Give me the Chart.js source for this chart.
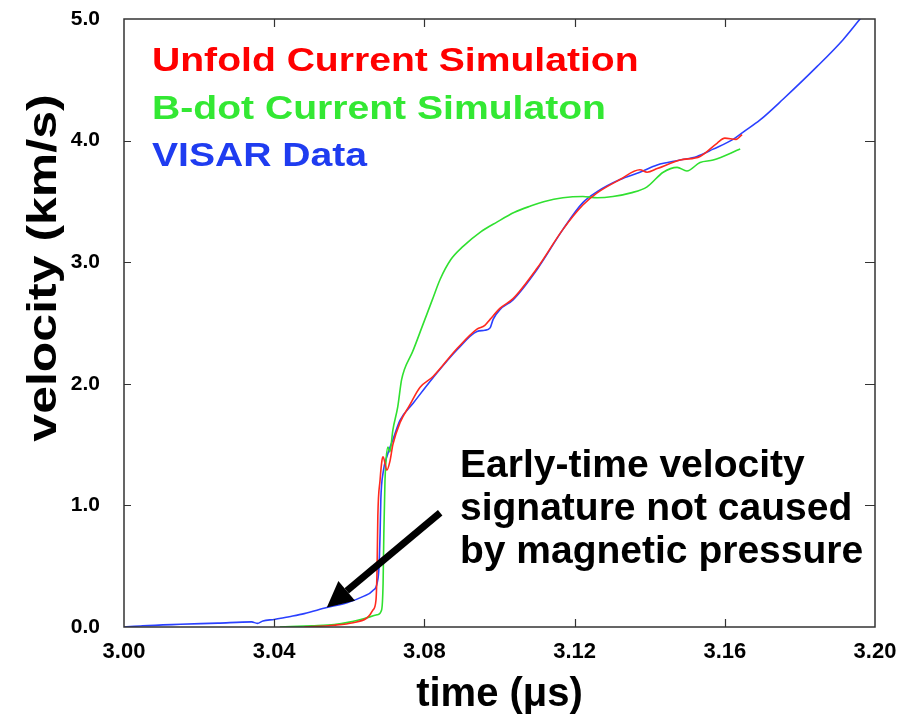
<!DOCTYPE html>
<html>
<head>
<meta charset="utf-8">
<title>velocity vs time</title>
<script src="https://cdn.jsdelivr.net/npm/chart.js@4.4.1/dist/chart.umd.min.js"></script>
<style>
    html, body { margin: 0; padding: 0; background: #fff; }
</style>
</head>
<body>
<canvas id="velocityChart" width="913" height="721"></canvas>
<script>
// VISAR measurement (time in µs, velocity in km/s)
const visarTime = [3.000, 3.005, 3.015, 3.025, 3.034, 3.0355, 3.037, 3.040, 3.044, 3.048, 3.054, 3.0594, 3.0636, 3.0663, 3.0674, 3.0679, 3.0682, 3.0684, 3.0690, 3.0700, 3.0716, 3.0735, 3.0770, 3.0823, 3.0887, 3.0940, 3.0961, 3.0975, 3.0983, 3.1001, 3.1036, 3.1100, 3.1169, 3.1222, 3.1260, 3.1321, 3.1374, 3.1420, 3.1481, 3.1526, 3.1569, 3.1622, 3.1649, 3.1694, 3.1755, 3.1846, 3.1915, 3.1960, 3.1975];
const visarVel = [0.000, 0.010, 0.022, 0.032, 0.042, 0.030, 0.050, 0.062, 0.085, 0.11, 0.16, 0.20, 0.25, 0.30, 0.36, 0.49, 0.77, 1.05, 1.27, 1.40, 1.54, 1.70, 1.84, 2.05, 2.28, 2.43, 2.44, 2.46, 2.53, 2.61, 2.69, 2.94, 3.27, 3.49, 3.58, 3.68, 3.74, 3.80, 3.84, 3.87, 3.93, 4.01, 4.07, 4.17, 4.34, 4.61, 4.83, 5.00, 5.06];

// simulation driven by unfolded current
const unfoldTime = [3.048, 3.056, 3.061, 3.0645, 3.0655, 3.0663, 3.0671, 3.0674, 3.0676, 3.0682, 3.0687, 3.0690, 3.0700, 3.0708, 3.0716, 3.0735, 3.0760, 3.0788, 3.0823, 3.0887, 3.0940, 3.0961, 3.0975, 3.1001, 3.1036, 3.1100, 3.1169, 3.1222, 3.1260, 3.1321, 3.1374, 3.1393, 3.1420, 3.1481, 3.1534, 3.1580, 3.1600, 3.1630, 3.1646];
const unfoldVel = [0.000, 0.015, 0.035, 0.07, 0.10, 0.14, 0.22, 0.49, 0.91, 1.21, 1.37, 1.40, 1.29, 1.36, 1.50, 1.68, 1.82, 1.97, 2.06, 2.29, 2.45, 2.48, 2.53, 2.62, 2.70, 2.95, 3.27, 3.47, 3.57, 3.68, 3.76, 3.74, 3.77, 3.84, 3.87, 3.98, 4.02, 4.01, 4.05];

// simulation driven by B-dot current
const bdotTime = [3.0415, 3.050, 3.056, 3.060, 3.064, 3.0674, 3.0686, 3.0690, 3.0692, 3.0695, 3.0698, 3.0703, 3.0708, 3.0716, 3.0729, 3.0739, 3.0747, 3.0768, 3.0794, 3.0821, 3.0842, 3.0870, 3.0903, 3.0950, 3.0993, 3.1040, 3.1081, 3.1120, 3.1169, 3.1222, 3.1260, 3.1302, 3.1350, 3.1393, 3.1436, 3.1473, 3.1499, 3.1534, 3.1569, 3.1641];
const bdotVel = [0.000, 0.010, 0.020, 0.040, 0.070, 0.100, 0.14, 0.36, 0.77, 1.20, 1.38, 1.48, 1.44, 1.62, 1.81, 2.03, 2.12, 2.26, 2.47, 2.69, 2.86, 3.02, 3.13, 3.25, 3.33, 3.41, 3.46, 3.50, 3.53, 3.54, 3.53, 3.54, 3.57, 3.62, 3.74, 3.78, 3.75, 3.82, 3.84, 3.93];

const xTicks = [3.00, 3.04, 3.08, 3.12, 3.16, 3.20];
const yTicks = [0, 1, 2, 3, 4, 5];

const noteLines = ['Early-time velocity', 'signature not caused', 'by magnetic pressure'];
const arrowFrom = [3.0842, 0.94];
const arrowTo = [3.054, 0.16];

const FONT = '"Liberation Sans", Arial, sans-serif';

function toPoints(ts, vs) {
    return ts.map((t, i) => ({ x: t, y: vs[i] }));
}

// frame, inward ticks, legend, note, arrow and y title
const decorPlugin = {
    id: 'decor',
    afterDatasetsDraw(chart) {
        const { ctx, chartArea: a, scales: { x, y } } = chart;
        ctx.save();

        // box
        ctx.strokeStyle = '#333';
        ctx.lineWidth = 1.5;
        ctx.strokeRect(a.left, a.top, a.right - a.left, a.bottom - a.top);

        // inward ticks
        ctx.beginPath();
        xTicks.slice(1, -1).forEach(v => {
            const px = Math.round(x.getPixelForValue(v)) + 0.5;
            ctx.moveTo(px, a.bottom); ctx.lineTo(px, a.bottom - 8);
            ctx.moveTo(px, a.top); ctx.lineTo(px, a.top + 8);
        });
        yTicks.slice(1, -1).forEach(v => {
            const py = Math.round(y.getPixelForValue(v)) + 0.5;
            ctx.moveTo(a.left, py); ctx.lineTo(a.left + 7, py);
            ctx.moveTo(a.right, py); ctx.lineTo(a.right - 10, py);
        });
        ctx.lineWidth = 1.2;
        ctx.stroke();

        // legend as coloured text
        ctx.textBaseline = 'alphabetic';
        ctx.textAlign = 'left';
        ctx.font = 'bold 34px ' + FONT;
        chart.data.datasets.forEach((ds, i) => {
            ctx.save();
            ctx.translate(152, 71 + i * 47.5);
            ctx.scale(1.15, 1);
            ctx.fillStyle = ds.textColor;
            ctx.fillText(ds.label, 0, 0);
            ctx.restore();
        });

        // note text
        ctx.fillStyle = '#000';
        ctx.font = 'bold 39px ' + FONT;
        noteLines.forEach((line, i) => ctx.fillText(line, 460, 477 + i * 43));

        // arrow
        const x0 = x.getPixelForValue(arrowFrom[0]), y0 = y.getPixelForValue(arrowFrom[1]);
        const x1 = x.getPixelForValue(arrowTo[0]), y1 = y.getPixelForValue(arrowTo[1]);
        const ang = Math.atan2(y1 - y0, x1 - x0);
        const headLen = 26, headHalf = 13;
        const bx = x1 - headLen * Math.cos(ang), by = y1 - headLen * Math.sin(ang);
        ctx.strokeStyle = '#000';
        ctx.lineWidth = 7;
        ctx.beginPath();
        ctx.moveTo(x0, y0);
        ctx.lineTo(bx, by);
        ctx.stroke();
        ctx.beginPath();
        ctx.moveTo(x1, y1);
        ctx.lineTo(bx + headHalf * Math.sin(ang), by - headHalf * Math.cos(ang));
        ctx.lineTo(bx - headHalf * Math.sin(ang), by + headHalf * Math.cos(ang));
        ctx.closePath();
        ctx.fill();

        // y axis title, stretched along its length like the original
        ctx.translate(45, 268);
        ctx.rotate(-Math.PI / 2);
        ctx.scale(1.25, 1);
        ctx.textAlign = 'center';
        ctx.textBaseline = 'middle';
        ctx.font = 'bold 40px ' + FONT;
        ctx.fillText('velocity (km/s)', 0, 0);

        ctx.restore();
    }
};

const ctx = document.getElementById('velocityChart').getContext('2d');
const velocityChart = new Chart(ctx, {
    type: 'line',
    data: {
        datasets: [{
            label: 'Unfold Current Simulation',
            data: toPoints(unfoldTime, unfoldVel),
            borderColor: '#ff2a1e',
            textColor: '#ff0000',
            borderWidth: 1.6,
            pointRadius: 0,
            cubicInterpolationMode: 'monotone'
        }, {
            label: 'B-dot Current Simulaton',
            data: toPoints(bdotTime, bdotVel),
            borderColor: '#30e030',
            textColor: '#33e833',
            borderWidth: 1.6,
            pointRadius: 0,
            cubicInterpolationMode: 'monotone'
        }, {
            label: 'VISAR Data',
            data: toPoints(visarTime, visarVel),
            borderColor: '#2a40ff',
            textColor: '#1f3cf0',
            borderWidth: 1.6,
            pointRadius: 0,
            cubicInterpolationMode: 'monotone'
        }]
    },
    options: {
        responsive: false,
        animation: false,
        devicePixelRatio: 1,
        layout: { padding: { top: 19, right: 38, left: 0, bottom: 0 } },
        plugins: {
            legend: { display: false },
            tooltip: { enabled: false }
        },
        scales: {
            x: {
                type: 'linear',
                min: 3.0,
                max: 3.2,
                afterBuildTicks: scale => { scale.ticks = xTicks.map(v => ({ value: v })); },
                afterFit: scale => { scale.height = 94; },
                grid: { display: false, drawTicks: false },
                border: { display: false },
                ticks: {
                    autoSkip: false,
                    maxRotation: 0,
                    padding: 12,
                    color: '#000',
                    font: { family: FONT, size: 22, weight: 'bold' },
                    callback: v => Number(v).toFixed(2)
                },
                title: {
                    display: true,
                    text: 'time (μs)',
                    color: '#000',
                    font: { family: FONT, size: 40, weight: 'bold' },
                    padding: { top: 0, bottom: 2 }
                }
            },
            y: {
                min: 0,
                max: 5,
                afterBuildTicks: scale => { scale.ticks = yTicks.map(v => ({ value: v })); },
                afterFit: scale => { scale.width = 124; },
                // invisible tick marks keep the labels clear of the frame
                grid: { display: true, drawOnChartArea: false, drawTicks: true, tickLength: 19, tickColor: 'rgba(0,0,0,0)' },
                border: { display: false },
                ticks: {
                    padding: 5,
                    color: '#000',
                    font: { family: FONT, size: 21, weight: 'bold' },
                    callback: v => Number(v).toFixed(1)
                }
            }
        }
    },
    plugins: [decorPlugin]
});
</script>
</body>
</html>
